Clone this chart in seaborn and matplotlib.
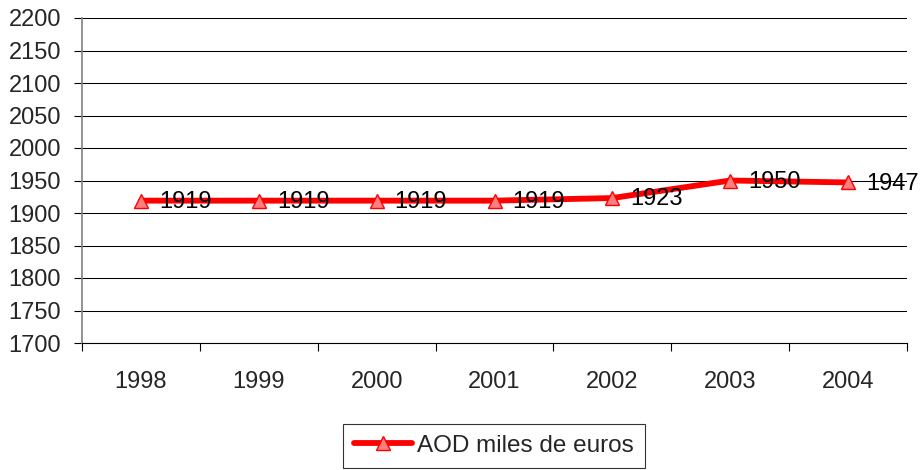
"""
Línea AOD miles de euros 1998-2004
"""
import pandas as pd
import seaborn as sns
import matplotlib
matplotlib.use('Agg')
import matplotlib.pyplot as plt

# ==================== datos ====================
years = ['1998', '1999', '2000', '2001', '2002', '2003', '2004']
values = [1919, 1919, 1919, 1919, 1923, 1950, 1947]
series_name = 'AOD miles de euros'
y_ticks = list(range(1700, 2201, 50))

sns.set_theme(style='white')
plt.rcParams['font.family'] = ['Liberation Sans', 'DejaVu Sans']

FS = 17

df = pd.DataFrame({'year': years, 'value': values, 'serie': series_name})
df['pos'] = range(len(years))

fig = plt.figure(figsize=(9.21, 4.70), dpi=100)
ax = fig.add_axes([82 / 921, 127 / 470, 825 / 921, 325 / 470])

sns.lineplot(
    data=df, x='pos', y='value', hue='serie', palette=['#FF0000'],
    linewidth=4.2, marker='^', markersize=10,
    markerfacecolor='#FF7F7F', markeredgecolor='#FF0000', markeredgewidth=1.0,
    ax=ax,
)

# etiquetas de datos
for p, v in zip(df['pos'], df['value']):
    ax.annotate(str(v), (p, v), xytext=(13, -1), textcoords='offset points',
                ha='left', va='center', fontsize=FS, color='black')

# ejes
ax.set_ylim(1700, 2200)
ax.set_yticks(y_ticks)
ax.set_xlim(-0.5, len(years) - 0.5)
ax.set_xticks([i - 0.5 for i in range(len(years) + 1)])
ax.set_xticklabels([])
ax.set_xticks(range(len(years)), minor=True)
ax.set_xticklabels(years, minor=True)
ax.tick_params(axis='x', which='major', direction='out', length=6, width=0.8, color='black', bottom=True)
ax.tick_params(axis='x', which='minor', length=0, pad=20, labelsize=FS)
ax.tick_params(axis='y', direction='out', length=6, width=0.8, color='black', left=True, labelsize=FS, pad=9)
ax.set_xlabel('')
ax.set_ylabel('')

ax.grid(True, axis='y', color='black', linewidth=0.75)
ax.set_axisbelow(True)
for s in ['top', 'right']:
    ax.spines[s].set_visible(False)
ax.spines['left'].set_color('#808080')
ax.spines['left'].set_linewidth(1.2)
ax.spines['bottom'].set_color('black')
ax.spines['bottom'].set_linewidth(0.8)

leg = ax.legend(loc='upper center', bbox_to_anchor=(494 / 921, 46 / 470),
                bbox_transform=fig.transFigure, fontsize=17.5, frameon=True,
                fancybox=False, handlelength=2.4, handletextpad=0.2,
                borderpad=0.45, borderaxespad=0)
leg.get_frame().set_edgecolor('black')
leg.get_frame().set_linewidth(0.8)

plt.savefig('out.png', dpi=100)
plt.close('all')
